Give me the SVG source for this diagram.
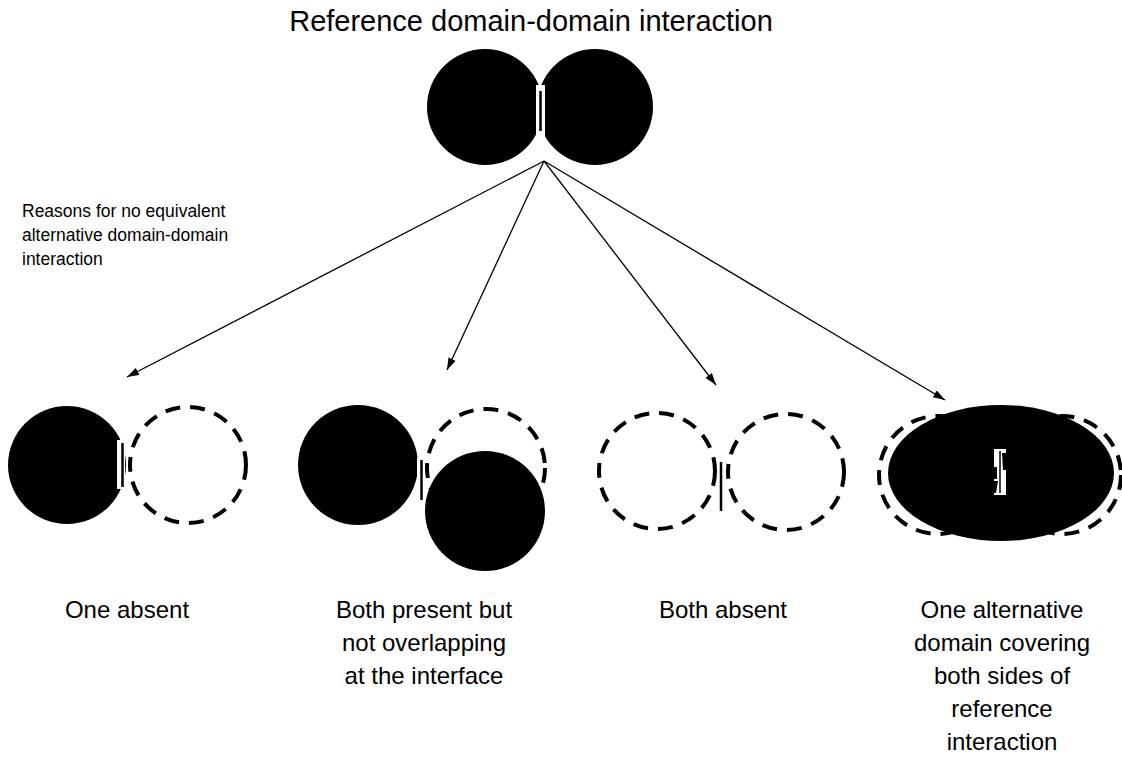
<svg xmlns="http://www.w3.org/2000/svg" width="1122" height="761" viewBox="0 0 1122 761">
<defs>
<style>
.t{font-family:"Liberation Sans",Arial,sans-serif;fill:#000}
.solid{fill:#000;stroke:none}
.dash{fill:none;stroke:#000;stroke-width:4;stroke-dasharray:15 10}
.gap{fill:#fff;stroke:none}
.ifc{stroke:#000;stroke-width:2.5;fill:none}
.conn{stroke:#000;stroke-width:1.3;fill:none;marker-end:url(#ah)}
</style>
<marker id="ah" viewBox="0 0 12 8" refX="12" refY="4" markerWidth="12" markerHeight="8" markerUnits="userSpaceOnUse" orient="auto">
<path d="M0,0 L12,4 L0,8 z" fill="#000"/>
</marker>
</defs>
<rect width="1122" height="761" fill="#fff"/>
<text class="t" x="531" y="31" font-size="29" text-anchor="middle">Reference domain-domain interaction</text>
<g id="reference">
<circle class="solid" cx="485" cy="107" r="58"/>
<circle class="solid" cx="595" cy="107" r="58"/>
<rect class="gap" x="536" y="85" width="9" height="52"/>
<line class="ifc" x1="540.5" y1="91" x2="540.5" y2="131"/>
</g>
<g id="reasons-label">
<text class="t" x="22" y="217" font-size="17.5">Reasons for no equivalent</text>
<text class="t" x="22" y="241" font-size="17.5">alternative domain-domain</text>
<text class="t" x="22" y="265" font-size="17.5">interaction</text>
</g>
<g id="connectors">
<line class="conn" x1="544" y1="161" x2="127" y2="377"/>
<line class="conn" x1="544" y1="161" x2="447" y2="370"/>
<line class="conn" x1="544" y1="161" x2="716" y2="385"/>
<line class="conn" x1="544" y1="161" x2="945" y2="400"/>
</g>
<g id="one-absent">
<circle class="dash" cx="188" cy="465" r="58"/>
<circle class="solid" cx="67" cy="465" r="59"/>
<rect class="gap" x="117" y="440" width="8" height="49"/>
<line class="ifc" x1="122.5" y1="443" x2="122.5" y2="487"/>
<text class="t" x="127" y="618" font-size="24" text-anchor="middle">One absent</text>
</g>
<g id="both-present">
<circle class="dash" cx="486" cy="468" r="59"/>
<circle class="solid" cx="358" cy="465" r="60"/>
<circle class="solid" cx="485" cy="511" r="60"/>
<rect class="gap" x="417" y="458" width="7" height="44"/>
<line class="ifc" x1="421.5" y1="460" x2="421.5" y2="500"/>
<text class="t" x="424" y="618" font-size="24" text-anchor="middle">Both present but</text>
<text class="t" x="424" y="651" font-size="24" text-anchor="middle">not overlapping</text>
<text class="t" x="424" y="684" font-size="24" text-anchor="middle">at the interface</text>
</g>
<g id="both-absent">
<circle class="dash" cx="657" cy="471" r="58"/>
<circle class="dash" cx="786" cy="472" r="58"/>
<line class="ifc" x1="721" y1="462" x2="721" y2="511" stroke-width="3"/>
<text class="t" x="723" y="618" font-size="24" text-anchor="middle">Both absent</text>
</g>
<g id="one-alternative">
<circle class="dash" cx="938" cy="475" r="59"/>
<circle class="dash" cx="1062" cy="475" r="59"/>
<ellipse class="solid" cx="1001" cy="473" rx="113" ry="68"/>
<rect class="gap" x="994" y="449" width="12" height="46"/>
<path class="solid" d="M1002,453 L1006,453 L1006,470 L1003,470 z"/>
<rect class="solid" x="994" y="467" width="3" height="12"/>
<path class="solid" d="M994,481 L998,481 L996,493 L994,493 z"/>
<line x1="1000" y1="451" x2="1000" y2="493" stroke="#000" stroke-width="1.5"/>
<text class="t" x="1002" y="618" font-size="24" text-anchor="middle">One alternative</text>
<text class="t" x="1002" y="651" font-size="24" text-anchor="middle">domain covering</text>
<text class="t" x="1002" y="684" font-size="24" text-anchor="middle">both sides of</text>
<text class="t" x="1002" y="717" font-size="24" text-anchor="middle">reference</text>
<text class="t" x="1002" y="750" font-size="24" text-anchor="middle">interaction</text>
</g>
</svg>
